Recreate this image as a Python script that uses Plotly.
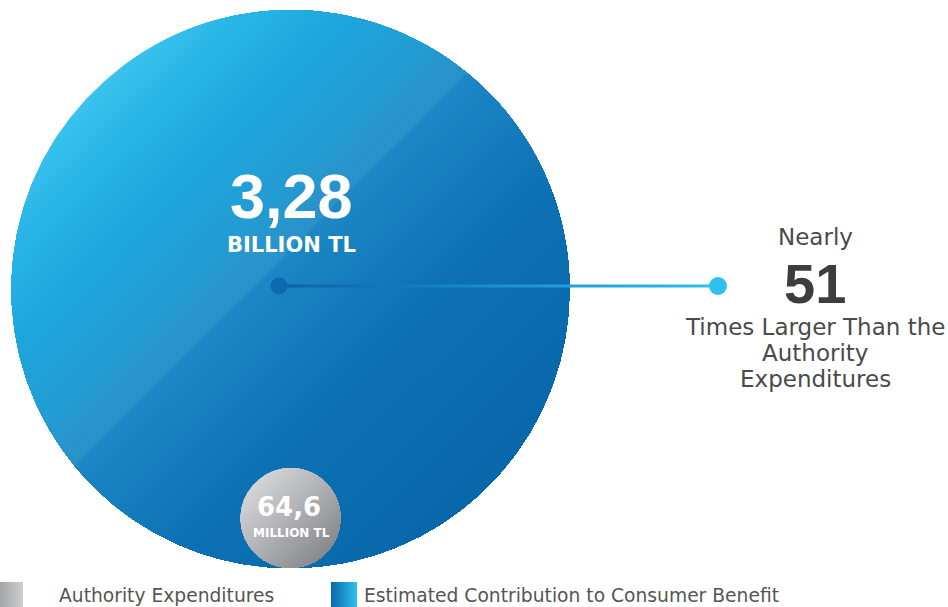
import numpy as np
import plotly.graph_objects as go

# ---- data ----
amounts = ["3,28", "64,6"]
units = ["BILLION TL", "MILLION TL"]
series_names = ["Authority Expenditures", "Estimated Contribution to Consumer Benefit"]
ratio_value = "51"
ratio_lines = ["Nearly", "Times Larger Than the", "Authority", "Expenditures"]

# ---- geometry / style (pixel space) ----
W, H = 948, 607
BIG_C, BIG_R = (290.5, 289.0), 279.0
SMALL_C, SMALL_R = (290.5, 518.0), 50.0

big_stops = [(185, "#3cc3ee"), (260, "#27b5e6"), (360, "#1da6dc"), (450, "#229ed5"),
             (538, "#2b91c9"), (539, "#1c88c5"), (640, "#157cbc"), (740, "#0c71b3"),
             (974, "#0967aa")]
small_stops = [(738, "#d4d5d7"), (800, "#b4b5b8"), (879, "#88898c")]


def hex2rgb(h):
    h = h.lstrip("#")
    return np.array([int(h[i:i + 2], 16) for i in (0, 2, 4)], float)


def color_at(s, stops):
    for (s0, c0), (s1, c1) in zip(stops[:-1], stops[1:]):
        if s <= s1:
            t = 0 if s1 == s0 else max(0.0, min(1.0, (s - s0) / (s1 - s0)))
            c = hex2rgb(c0) * (1 - t) + hex2rgb(c1) * t
            return "rgb(%d,%d,%d)" % tuple(np.round(c))
    c = hex2rgb(stops[-1][1])
    return "rgb(%d,%d,%d)" % tuple(c)


def circle_pts(c, r, n=480):
    t = np.linspace(0, 2 * np.pi, n, endpoint=False)
    return list(zip(c[0] + r * np.cos(t), c[1] + r * np.sin(t)))


def clip(poly, cval):
    out = []
    n = len(poly)
    for i in range(n):
        p, q = poly[i], poly[(i + 1) % n]
        pin = p[0] + p[1] >= cval
        qin = q[0] + q[1] >= cval
        if pin:
            out.append(p)
        if pin != qin:
            sp, sq = p[0] + p[1], q[0] + q[1]
            t = (cval - sp) / (sq - sp)
            out.append((p[0] + t * (q[0] - p[0]), p[1] + t * (q[1] - p[1])))
    return out


fig = go.Figure()


def gradient_disc(c, r, stops, step=4.0):
    base = circle_pts(c, r)
    smin = c[0] + c[1] - r * np.sqrt(2)
    smax = c[0] + c[1] + r * np.sqrt(2)
    cvals = list(np.arange(smin - 1, smax, step))
    for i, cv in enumerate(cvals):
        poly = base if i == 0 else clip(base, cv)
        if len(poly) < 3:
            continue
        xs = [p[0] for p in poly] + [poly[0][0]]
        ys = [p[1] for p in poly] + [poly[0][1]]
        fig.add_trace(go.Scatter(x=xs, y=ys, mode="lines", fill="toself",
                                 fillcolor=color_at(cv + step / 2, stops),
                                 line=dict(width=0), hoverinfo="skip", showlegend=False))


gradient_disc(BIG_C, BIG_R, big_stops)

# connector line with gradient
x0, x1, yl = 279.0, 718.0, 286.0
fig.add_trace(go.Scatter(x=[x0, x1, x1, x0, x0], y=[yl - 1.5, yl - 1.5, yl + 1.5, yl + 1.5, yl - 1.5],
                         mode="lines", fill="toself", line=dict(width=0), hoverinfo="skip",
                         fillgradient=dict(type="horizontal",
                                           colorscale=[[0, "#0b62a4"], [0.6, "#1d9ad6"], [1, "#2dc0ee"]]),
                         showlegend=False))
fig.add_trace(go.Scatter(x=[x0], y=[yl], mode="markers",
                         marker=dict(size=17, color="#0c69ad", line=dict(width=0)),
                         hoverinfo="skip", showlegend=False))
fig.add_trace(go.Scatter(x=[x1], y=[yl], mode="markers",
                         marker=dict(size=18, color="#2ec1ef", line=dict(width=0)),
                         hoverinfo="skip", showlegend=False))

gradient_disc(SMALL_C, SMALL_R, small_stops, step=3.0)

# legend squares
def legend_square(xa, xb, ya, yb, cs):
    fig.add_trace(go.Scatter(x=[xa, xb, xb, xa, xa], y=[ya, ya, yb, yb, ya], mode="lines",
                             fill="toself", line=dict(width=0), hoverinfo="skip",
                             fillgradient=dict(type="horizontal", colorscale=cs),
                             showlegend=False))


legend_square(0, 23, 582, 607, [[0, "#a3a4a6"], [1, "#cdcecf"]])
legend_square(331, 357, 582, 607, [[0, "#0b66aa"], [1, "#2ec2ef"]])

ann = []
WHITE = "#ffffff"
ann.append(dict(x=291, y=196, text="<b>%s</b>" % amounts[0],
                font=dict(family="Liberation Sans", size=63, color=WHITE)))
ann.append(dict(x=291, y=245, text="<b>%s</b>" % units[0],
                font=dict(family="DejaVu Sans", size=21, color=WHITE)))
ann.append(dict(x=289, y=507, text="<b>%s</b>" % amounts[1],
                font=dict(family="DejaVu Sans", size=26, color=WHITE)))
ann.append(dict(x=291, y=533, text="<b>%s</b>" % units[1],
                font=dict(family="DejaVu Sans", size=12, color=WHITE)))

ann.append(dict(x=815, y=237, text=ratio_lines[0], font=dict(family="DejaVu Sans", size=23, color="#4a4a4a")))
ann.append(dict(x=815, y=283, text="<b>%s</b>" % ratio_value,
                font=dict(family="Liberation Sans", size=56, color="#3d3d3d")))
for txt, yy in zip(ratio_lines[1:], [327, 353, 379]):
    ann.append(dict(x=815, y=yy, text=txt, font=dict(family="DejaVu Sans", size=23, color="#4a4a4a")))

ann.append(dict(x=57, y=595, text=series_names[0], xanchor="left",
                font=dict(family="DejaVu Sans", size=18.7, color="#555555")))
ann.append(dict(x=362, y=595, text=series_names[1], xanchor="left",
                font=dict(family="DejaVu Sans", size=18.7, color="#555555")))

for a in ann:
    a.setdefault("xanchor", "center")
    a.update(xref="x", yref="y", yanchor="middle", showarrow=False)

fig.update_layout(
    width=W, height=H, margin=dict(l=0, r=0, t=0, b=0),
    paper_bgcolor="white", plot_bgcolor="white",
    xaxis=dict(range=[0, W], visible=False, fixedrange=True),
    yaxis=dict(range=[H, 0], visible=False, fixedrange=True),
    annotations=ann, showlegend=False,
)

fig.write_html("out.html")
